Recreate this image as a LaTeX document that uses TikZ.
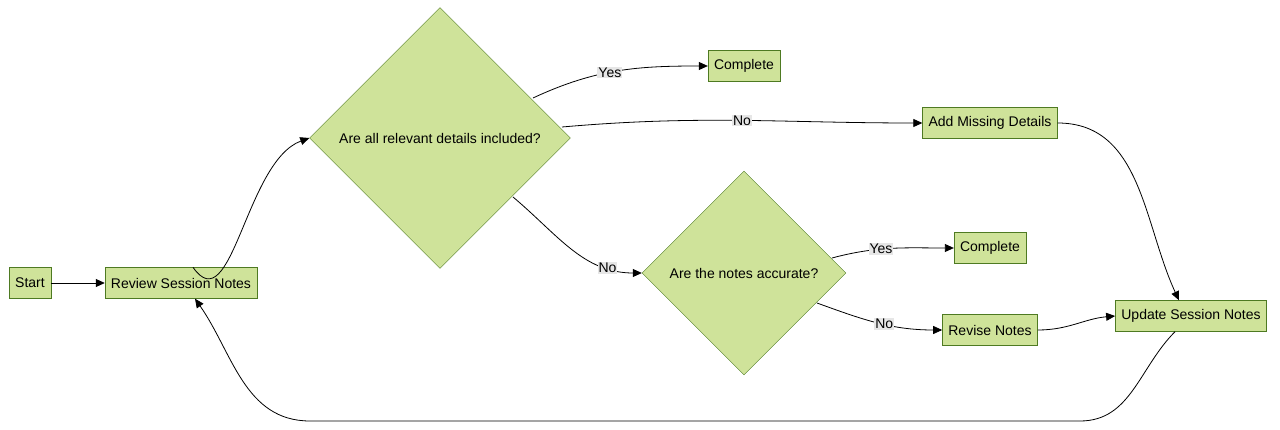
\documentclass[tikz,border=0pt]{standalone}
\usepackage{fontspec}
\setmainfont{Liberation Sans}
\usetikzlibrary{arrows.meta,shapes.geometric,positioning}
\definecolor{boxfill}{HTML}{CFE39A}
\definecolor{boxline}{HTML}{4E7A22}
\definecolor{lblfill}{HTML}{E6E6E6}
\begin{document}
\begin{tikzpicture}[x=1pt,y=-1pt,>={Triangle[length=9pt,width=8pt]},
  every node/.style={font=\fontsize{14}{16}\selectfont},
  box/.style={draw=boxline,fill=boxfill,minimum height=31pt,inner xsep=6pt},
  dec/.style={draw=boxline,fill=boxfill,diamond,aspect=1,inner sep=0pt},
  lbl/.style={fill=lblfill,inner sep=1pt},
  arr/.style={->,thick}]
\useasboundingbox (0,0) rectangle (1280,430);

\node[box]  (start)  at (30,283)   {Start};
\node[box]  (rev)    at (181,283)  {Review Session Notes};
\node[dec,minimum size=261pt] (q1) at (440,138) {Are all relevant details included?};
\node[box]  (done1)  at (744,66)   {Complete};
\node[box]  (add)    at (990,123)  {Add Missing Details};
\node[dec,minimum size=204pt] (q2) at (744,273) {Are the notes accurate?};
\node[box]  (done2)  at (990,248)  {Complete};
\node[box]  (fix)    at (990,330)  {Revise Notes};
\node[box]  (upd)    at (1191,316) {Update Session Notes};

\draw[arr] (start) -- (rev);
\draw[arr] ([xshift=12]rev.north) to[out=-55,in=200] (q1.west);
\draw[arr] (533,98) to[out=25,in=180] node[lbl,pos=0.45]{Yes} (done1.west);
\draw[arr] (562,127) to[out=5,in=180] node[lbl,pos=0.5]{No} (add.west);
\draw[arr] (513,197) to[out=-40,in=180] node[lbl,pos=0.78]{No} (q2.west);
\draw[arr] (832,258) to[out=15,in=180] node[lbl,pos=0.4]{Yes} (done2.west);
\draw[arr] (817,303) to[out=-20,in=180] node[lbl,pos=0.55]{No} (fix.west);
\draw[arr] (add.east) to[out=0,in=115] ([xshift=-12]upd.north);
\draw[arr] (fix.east) to[out=0,in=185] (upd.west);
\draw[arr] ([xshift=-16]upd.south) to[out=-135,in=0] (1080,421) -- (310,421)
  to[out=180,in=-55] ([xshift=14]rev.south);
\end{tikzpicture}
\end{document}
